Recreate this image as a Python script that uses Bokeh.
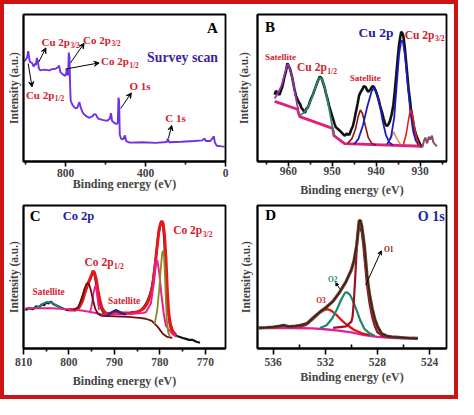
from bokeh.plotting import figure
from bokeh.layouts import gridplot
from bokeh.models import Range1d, FixedTicker, Arrow, VeeHead
from bokeh.core.properties import value
from bokeh.embed import file_html
from bokeh.resources import INLINE

# ---------------- Panel A : survey scan ----------------
a_ev = [1008, 1003, 991.5, 986.6, 981.9, 978.5, 967.4, 959, 952.8, 948, 943.1, 938.3, 933.5, 926.8,
        906, 881.8, 865.8, 849.4, 838.2, 832, 825.3, 814, 801, 796, 793, 790, 786.5, 783.6, 780.2,
        777, 774, 764.3, 749.8, 740, 735.2, 730.4, 723.7, 712.5, 696.5, 680.2, 664.1, 656, 648,
        636.6, 615.7, 591.5, 578.8, 572.2, 567.4, 554.6, 543.2, 538.4, 535, 532, 528.7, 522.2,
        510.8, 503, 496.3, 478.9, 414, 349.7, 293.2, 288.3, 282, 220.6, 156.2, 116, 104.5, 98.2,
        75.5, 64.3, 58, 53.2, 43.5, 19.3, 0]
a_int = [108.7, 108, 112, 118.7, 112, 107, 106, 102, 105.3, 103.7, 111.3, 108, 100.3, 98,
         98.7, 98, 99.3, 99.7, 101.3, 103, 96, 93.7, 92, 96, 99.3, 92.7, 93.7, 117, 112,
         82, 65.3, 60.3, 57, 58, 61.3, 63.7, 58, 52, 48.7, 47, 48.7, 51, 50.3,
         46, 44.7, 43.7, 46, 52, 43.7, 41.3, 40.3, 42, 68.7, 65.3, 28.7, 24.7,
         23.7, 28, 22, 20.3, 20.7, 20, 21, 24.7, 20.7, 21.3, 22, 22.7, 24.7, 22,
         22, 25.3, 27, 20.3, 17, 16.3, 16]

# ---------------- Panel B : Cu 2p ----------------
b_ev = [963.1, 962.8, 962.5, 962.0, 961.6, 961.3, 960.9, 960.5, 960.2, 959.9, 959.6, 959.1, 958.6,
        958.2, 957.7, 957.3, 957.0, 956.6, 956.2, 955.9, 955.5, 955.1, 954.8, 954.4, 954.1, 953.7,
        953.3, 952.8, 952.4, 952.1, 951.7, 951.4, 951.0, 950.7, 950.3, 949.9, 949.5, 949.2, 948.7,
        948.2, 947.8, 947.2, 946.7, 946.1, 945.7, 945.3, 944.9, 944.6, 944.2, 943.9, 943.5, 943.1,
        942.8, 942.4, 942.1, 941.8, 941.4, 941.1, 940.8, 940.5, 940.1, 939.8, 939.4, 939.1, 938.7,
        938.3, 938.0, 937.6, 937.2, 936.9, 936.5, 936.1, 935.8, 935.4, 935.1, 934.8, 934.5, 934.3,
        934.0, 933.8, 933.5, 933.2, 932.9, 932.6, 932.3, 932.1, 931.7, 931.4, 931.0, 930.6, 930.2,
        929.9, 929.5]
b_int = [70, 74, 72, 70, 75, 79, 88, 95, 103, 100, 97, 88, 76,
         68, 63, 60, 56, 54, 51, 55, 57, 62, 66, 70, 74, 79,
         84, 89, 87, 83, 77, 71, 64, 58, 52, 46, 40, 36, 34,
         32, 30, 27, 29, 28, 33, 37, 45, 52, 61, 69, 73, 76,
         79, 78, 75, 73, 75, 77, 79, 78, 74, 70, 64, 58, 52,
         45, 40, 37, 39, 42, 49, 59, 72, 92, 108, 122, 131, 136,
         134, 131, 120, 105, 90, 75, 64, 55, 45, 36, 29, 24, 20,
         17, 15]
b_tail_ev = [929.5, 929.1, 928.8, 928.4, 928.0, 927.7, 927.3, 927.0, 926.6, 926.2]
b_tail_int = [15, 22, 25, 19, 26, 23, 27, 20, 18, 16]
b_bg_ev = [963.1, 957.9, 957.4, 949.9, 949.6, 947.2, 929.5]
b_bg_int = [63, 54.7, 47, 34.7, 27, 18.7, 16]
b_sat1_ev = [963.1, 962.3, 961.5, 960.9, 960.4, 960.1, 959.6, 959.0, 958.5, 958.0, 957.7]
b_sat1_int = [66, 72, 80, 90, 99, 102, 97, 86, 73, 60, 54]
b_p12_ev = [957.4, 956.5, 955.6, 954.6, 953.8, 953.1, 952.7, 952.2, 951.5, 950.8, 950.2, 949.8, 949.6]
b_p12_int = [48, 51, 56, 67, 78, 86, 88, 85, 74, 58, 42, 33, 28]
b_sat2_ev = [946.5, 945.5, 944.7, 944.1, 943.6, 943.1, 942.5, 941.8, 941.0, 940.0]
b_sat2_int = [19, 24, 34, 47, 54, 50, 38, 25, 19, 17]
b_sat3_ev = [945.0, 944.0, 943.0, 942.0, 941.0, 940.5, 940.0, 939.2, 938.5, 937.8, 937.0, 936.2]
b_sat3_int = [18, 24, 38, 58, 74, 77, 74, 60, 42, 28, 20, 17]
b_small_ev = [937.5, 936.7, 936.0, 935.3, 934.5]
b_small_int = [18, 24, 31, 24, 18]
b_main_ev = [937.5, 936.6, 935.9, 935.3, 934.8, 934.3, 933.9, 933.4, 932.8, 932.2, 931.6, 931.0, 930.3]
b_main_int = [18, 26, 46, 82, 112, 127, 125, 110, 80, 52, 32, 22, 17]
b_red_ev = [933.8, 933.2, 932.6, 932.2, 931.8, 931.3, 930.8, 930.2, 929.6]
b_red_int = [18, 28, 45, 54, 50, 36, 24, 17, 15]

# ---------------- Panel C : Co 2p ----------------
c_ev = [809.6, 808.8, 807.9, 807.2, 806.5, 806.0, 805.5, 805.0, 804.5, 804.0, 803.4, 802.9, 802.4,
        801.5, 800.3, 799.4, 798.6, 797.9, 797.5, 797.2, 796.8, 796.5, 796.1, 795.8, 795.5, 795.2,
        794.9, 794.7, 794.4, 794.1, 793.8, 793.6, 793.2, 792.9, 792.5, 792.1, 791.5, 791.0, 790.5,
        790.0, 789.6, 789.3, 788.8, 788.3, 787.6, 786.9, 786.0, 785.2, 784.5, 783.9, 783.3, 782.8,
        782.3, 781.9, 781.5, 781.1, 780.7, 780.4, 780.1, 779.9, 779.6, 779.4, 779.2, 779.0, 778.9,
        778.6, 778.4, 778.1, 777.8, 777.4, 777.0, 776.3, 775.6, 775.0, 774.3, 773.6, 772.9, 772.0,
        771.2]
c_int = [40, 42, 41, 44, 43, 46, 45, 48, 47, 49, 46, 45, 44,
         42, 40, 41, 40, 42, 47, 52, 57, 62, 65, 69, 71, 74,
         78, 80, 77, 70, 60, 53, 46, 42, 38, 35, 35, 36, 37,
         39, 40, 39, 38, 36, 37, 36, 38, 37, 39, 41, 45, 49,
         55, 61, 72, 87, 103, 117, 125, 129, 132, 130, 123, 108, 97,
         75, 50, 35, 24, 19, 15, 13, 12, 11, 10, 9, 9, 7,
         6]
c_env_ev = [800.0, 798.6, 797.6, 797.0, 796.5, 796.0, 795.5, 795.0, 794.7, 794.4, 794.0, 793.6, 793.2,
            792.8, 792.2, 791.5, 790.0, 788.0, 786.0, 784.5, 783.5, 782.8, 782.2, 781.6, 781.1, 780.6,
            780.2, 779.9, 779.6, 779.3, 779.0, 778.7, 778.4, 778.1, 777.7, 777.2, 776.5]
c_env_int = [40, 40, 44, 50, 58, 65, 71, 77, 81, 79, 72, 60, 50,
             43, 38, 36, 38, 37, 37, 39, 42, 47, 54, 66, 85, 108,
             124, 130, 133, 130, 118, 95, 62, 38, 25, 18, 14]
c_bg_ev = [809.6, 803.8, 798.3, 796.2, 794.1, 792.4, 790.0, 786.6, 783.8]
c_bg_int = [42, 42, 40.3, 38.7, 37, 35.3, 35.3, 36, 37]
c_mag1_ev = [795.4, 795.0, 794.6, 794.3, 794.1, 793.8, 793.4]
c_mag1_int = [37, 45, 58, 64, 66, 55, 40]
c_mag2_ev = [783.8, 783.1, 782.0, 781.3, 780.9, 780.6, 780.2, 779.7, 779.2, 778.7, 778.0, 777.3, 776.3]
c_mag2_int = [37, 37.7, 47, 70.3, 90.3, 92, 80.3, 57, 37, 23.7, 19.3, 15.3, 12]
c_p12_ev = [799.0, 798.0, 797.2, 796.6, 796.1, 795.6, 795.2, 794.7, 794.2, 793.6, 792.8]
c_p12_int = [40, 43, 52, 62, 68, 67, 61, 50, 41, 36, 34]
c_shir_ev = [792.8, 790.0, 787.0, 784.5, 783.1, 781.8, 780.4, 779.4, 778.4, 777.3]
c_shir_int = [34, 33.5, 33, 32, 31, 28.7, 22, 15.3, 12, 11]
c_p32_ev = [781.2, 780.6, 780.2, 779.8, 779.5, 779.3, 779.1, 778.9, 778.7, 778.5, 778.2, 777.8]
c_p32_int = [25, 40, 60, 85, 100, 102, 95, 75, 50, 30, 17, 12]
c_sat1_ev = [807.5, 806.5, 805.6, 804.8, 804.0, 803.3, 802.5, 801.7]
c_sat1_int = [42, 44, 47, 48.5, 48, 46.5, 44, 42]
c_sat2_ev = [791.5, 790.8, 790.2, 789.6, 789.0, 788.3, 787.5]
c_sat2_int = [35.5, 37, 39, 39.5, 38, 36.5, 35.5]

# ---------------- Panel D : O 1s ----------------
d_ev = [537.1, 536.5, 536.0, 535.5, 535.2, 534.8, 534.3, 533.9, 533.4, 532.9, 532.4, 531.9, 531.4,
        530.9, 530.4, 530.0, 529.8, 529.6, 529.5, 529.4, 529.3, 529.2, 529.0, 528.8, 528.6, 528.4,
        528.2, 528.0, 527.7, 527.3, 526.9, 526.4, 525.9, 525.4, 524.9]
d_int = [23, 23.5, 24, 25, 26, 24.5, 25, 26, 28, 34.7, 41, 46.5, 53,
         63, 75, 88, 98, 115, 128, 143, 143, 137, 115, 82, 60, 45,
         33, 25, 17, 14, 13, 12.5, 12, 11.5, 11.3]
d_o1_ev = [531.4, 530.4, 530.0, 529.9, 529.8, 529.7, 529.6, 529.5, 529.35, 529.2, 529.1, 528.95,
           528.8, 528.6, 528.4, 528.2, 528.0, 527.6, 527.2]
d_o1_int = [23, 24.7, 30, 36, 55, 80, 108, 131, 136, 130, 118, 95, 71, 50, 35, 25, 18, 14, 13]
d_o2_ev = [532.4, 531.9, 531.5, 531.1, 530.8, 530.5, 530.35, 530.1, 529.9, 529.6, 529.3, 529.0, 528.6, 528.2]
d_o2_int = [23, 26, 33, 44, 54, 62, 63, 60, 54, 43, 31, 22, 17, 14]
d_o3_ev = [534.0, 533.5, 533.0, 532.5, 532.1, 531.8, 531.5, 531.1, 530.7, 530.3, 529.8, 529.2, 528.6]
d_o3_int = [24, 26, 32, 39, 43, 44, 42, 37, 31, 26, 21, 17, 15]
d_bg_ev = [537.1, 535.0, 533.0, 532.0, 531.0, 530.0, 529.0, 528.0, 527.0, 526.0, 524.9]
d_bg_int = [23, 23, 22.5, 21.5, 20, 18, 15, 13, 12, 11.5, 11.3]

FONT = "Liberation Serif"
RED = "#d42030"
EM = {"C": .722, "u": .556, "o": .5, " ": .25, "2": .5, "p": .556}


def make_fig(w, h, xr, yr, mb, ticks, minor, tick_out, tick_std, xlab_std, ylab_std,
             minor_in=0, minor_out=3):
    p = figure(width=w, height=h, x_range=Range1d(*xr), y_range=Range1d(*yr),
               output_backend="svg", toolbar_location=None,
               min_border_left=mb[0], min_border_right=mb[1],
               min_border_top=mb[2], min_border_bottom=mb[3])
    p.grid.visible = False
    p.outline_line_color = "black"
    p.outline_line_width = 1.8
    p.outline_line_alpha = 1
    p.border_fill_color = "white"
    xa = p.xaxis[0]
    xa.ticker = FixedTicker(ticks=ticks, minor_ticks=minor)
    xa.axis_label = "Binding energy (eV)"
    xa.axis_label_text_font = FONT
    xa.axis_label_text_font_style = "bold"
    xa.axis_label_text_font_size = "12px"
    xa.axis_label_standoff = xlab_std
    xa.major_label_text_font = FONT
    xa.major_label_text_font_style = "bold"
    xa.major_label_text_font_size = "11.5px"
    xa.major_label_standoff = tick_std
    xa.major_tick_out = tick_out
    xa.major_tick_in = 0
    xa.minor_tick_out = minor_out
    xa.minor_tick_in = minor_in
    xa.axis_line_width = 1.8
    xa.major_tick_line_width = 1.6
    xa.minor_tick_line_width = 1.6
    ya = p.yaxis[0]
    ya.ticker = FixedTicker(ticks=[])
    ya.axis_label = "Intensity (a.u.)"
    ya.axis_label_text_font = FONT
    ya.axis_label_text_font_style = "bold"
    ya.axis_label_text_font_size = "11.5px"
    ya.axis_label_standoff = ylab_std
    ya.major_tick_out = 0
    ya.minor_tick_out = 0
    ya.major_label_text_font_size = "0px"
    ya.axis_line_width = 1.8
    return p


def txt(p, x, y, s, size, color, x_off=0, y_off=0):
    p.text(x=[x], y=[y], text=[s], text_font=value(FONT), text_font_style="bold",
           text_font_size=f"{size}px", text_color=color, text_baseline="middle",
           text_align="left", x_offset=x_off, y_offset=y_off)


def sublabel(p, x, y, main, sub, size, color):
    txt(p, x, y, main, size, color)
    wid = size * sum(EM.get(c, 0.5) for c in main)
    txt(p, x, y, sub, round(size * 0.66, 1), color, x_off=wid + 0.5, y_off=size * 0.38)


def arrow(p, xs, ys, xe, ye, color="black", size=5):
    p.add_layout(Arrow(end=VeeHead(size=size, line_color=color, line_width=1, fill_color=color),
                       x_start=xs, y_start=ys, x_end=xe, y_end=ye,
                       line_color=color, line_width=1))


# ---- A ----
pA = make_fig(230, 195, (1010, 0), (0, 158), (18, 9, 10, 34),
              [0, 400, 800], [200, 600, 1000], 5, 2, -3, 4)
pA.line(a_ev, a_int, line_color="#7030e6", line_width=1.9)
txt(pA, 92, 143.7, "A", 15, "black")
txt(pA, 392, 112, "Survey scan", 13.8, "#3b1fa8")
sublabel(pA, 920, 128.7, "Cu 2p", "3/2", 11, RED)
sublabel(pA, 712, 131, "Co 2p", "3/2", 11, RED)
sublabel(pA, 622, 108, "Co 2p", "1/2", 11, RED)
sublabel(pA, 998, 72, "Cu 2p", "1/2", 11, RED)
txt(pA, 480, 81, "O 1s", 11, RED)
txt(pA, 301, 46.5, "C 1s", 11, RED)
arrow(pA, 986.7, 105.3, 967.4, 80.3)
arrow(pA, 933.5, 107, 898, 122)
arrow(pA, 775, 106, 707, 127)
arrow(pA, 801, 99.3, 632, 106)
arrow(pA, 524, 57, 471, 73.7)
arrow(pA, 285, 25.3, 269, 38.7)

# ---- B ----
pB = make_fig(220, 195, (967, 924), (0, 154), (22, 8, 9, 38),
              [930, 940, 950, 960], [925, 935, 945, 955, 965], 5, 0, 5, 8)
pB.line(b_bg_ev, b_bg_int, line_color="#e0207a", line_width=2.8)
pB.line(b_ev, b_int, line_color="#111111", line_width=2.6)
pB.line(b_tail_ev, b_tail_int, line_color="#8e4a62", line_width=2)
pB.line(b_sat1_ev, b_sat1_int, line_color="#9632a8", line_width=1.8)
pB.line(b_p12_ev, b_p12_int, line_color="#2a8a6a", line_width=1.8)
pB.line(b_sat2_ev, b_sat2_int, line_color="#8b1212", line_width=1.6)
pB.line(b_sat3_ev, b_sat3_int, line_color="#1a1ac0", line_width=1.8)
pB.line(b_small_ev, b_small_int, line_color="#d9906a", line_width=1.6)
pB.line(b_main_ev, b_main_int, line_color="#1a1ac0", line_width=1.8)
pB.line(b_red_ev, b_red_int, line_color="#e02020", line_width=1.6)
txt(pB, 965.3, 141, "B", 15, "black")
txt(pB, 944.0, 135, "Cu 2p", 13.5, "#1c1ca8")
sublabel(pB, 933.5, 133, "Cu 2p", "3/2", 11.5, RED)
sublabel(pB, 958.0, 99, "Cu 2p", "1/2", 11.5, RED)
txt(pB, 965.3, 110, "Satellite", 9, RED)
txt(pB, 946.0, 87, "Satellite", 9, RED)

# ---- C ----
pC = make_fig(230, 196, (810, 765.6), (0, 149), (18, 3, 6, 47),
              [770, 780, 790, 800, 810], [775, 785, 795, 805], 6, 3, 5, 4)
pC.line(c_ev, c_int, line_color="#111111", line_width=2.2)
pC.line(c_env_ev, c_env_int, line_color="#e81818", line_width=3)
pC.line(c_bg_ev, c_bg_int, line_color="#e8208f", line_width=2)
pC.line(c_mag1_ev, c_mag1_int, line_color="#e8208f", line_width=1.8)
pC.line(c_mag2_ev, c_mag2_int, line_color="#e8208f", line_width=2)
pC.line(c_p12_ev, c_p12_int, line_color="#6b0f0f", line_width=1.8)
pC.line(c_shir_ev, c_shir_int, line_color="#6b0f0f", line_width=1.8)
pC.line(c_p32_ev, c_p32_int, line_color="#8a8a2a", line_width=1.8)
pC.line(c_sat1_ev, c_sat1_int, line_color="#2a7f7f", line_width=2)
pC.line(c_sat2_ev, c_sat2_int, line_color="#2020a0", line_width=2)
txt(pC, 808.6, 138, "C", 15, "black")
txt(pC, 801.4, 138, "Co 2p", 12.5, "#2020a0")
sublabel(pC, 777.1, 123, "Co 2p", "3/2", 11.5, RED)
sublabel(pC, 796.6, 90, "Co 2p", "1/2", 11.5, RED)
txt(pC, 808.0, 59, "Satellite", 9.3, RED)
txt(pC, 791.4, 49, "Satellite", 9.3, RED)

# ---- D ----
pD = make_fig(220, 196, (537.2, 522.7), (0, 160), (22, 8, 6, 36),
              [524, 528, 532, 536], [526, 530, 534], 6, 3, 1, 6, minor_in=4, minor_out=0)
pD.line(d_bg_ev, d_bg_int, line_color="#e020a0", line_width=2.4)
pD.line(d_o3_ev, d_o3_int, line_color="#e01010", line_width=2.2)
pD.line(d_o2_ev, d_o2_int, line_color="#1a8a6a", line_width=2.2)
pD.line(d_o1_ev, d_o1_int, line_color="#a01020", line_width=2.2)
pD.line(d_ev, d_int, line_color="#7a3b2e", line_width=3.2)
pD.line(d_ev, d_int, line_color="#2a2a1a", line_width=1.4)
txt(pD, 536.6, 149, "D", 15, "black")
txt(pD, 524.9, 148, "O 1s", 14, "#1a2a9a")
txt(pD, 527.5, 111, "O1", 7.5, "#8b1a1a")
txt(pD, 531.8, 77.5, "O2", 7.5, "#1a8a6a")
txt(pD, 532.7, 53.5, "O3", 7.5, "#d42030")
arrow(pD, 528.9, 71, 527.7, 109.3, size=4)
arrow(pD, 530.9, 67, 531.2, 73.5, size=3)

grid = gridplot([[pA, pB], [pC, pD]], toolbar_location=None)
grid.styles = {"border": "4px solid #cc1414"}

open("out.html", "w").write(file_html(grid, INLINE))
